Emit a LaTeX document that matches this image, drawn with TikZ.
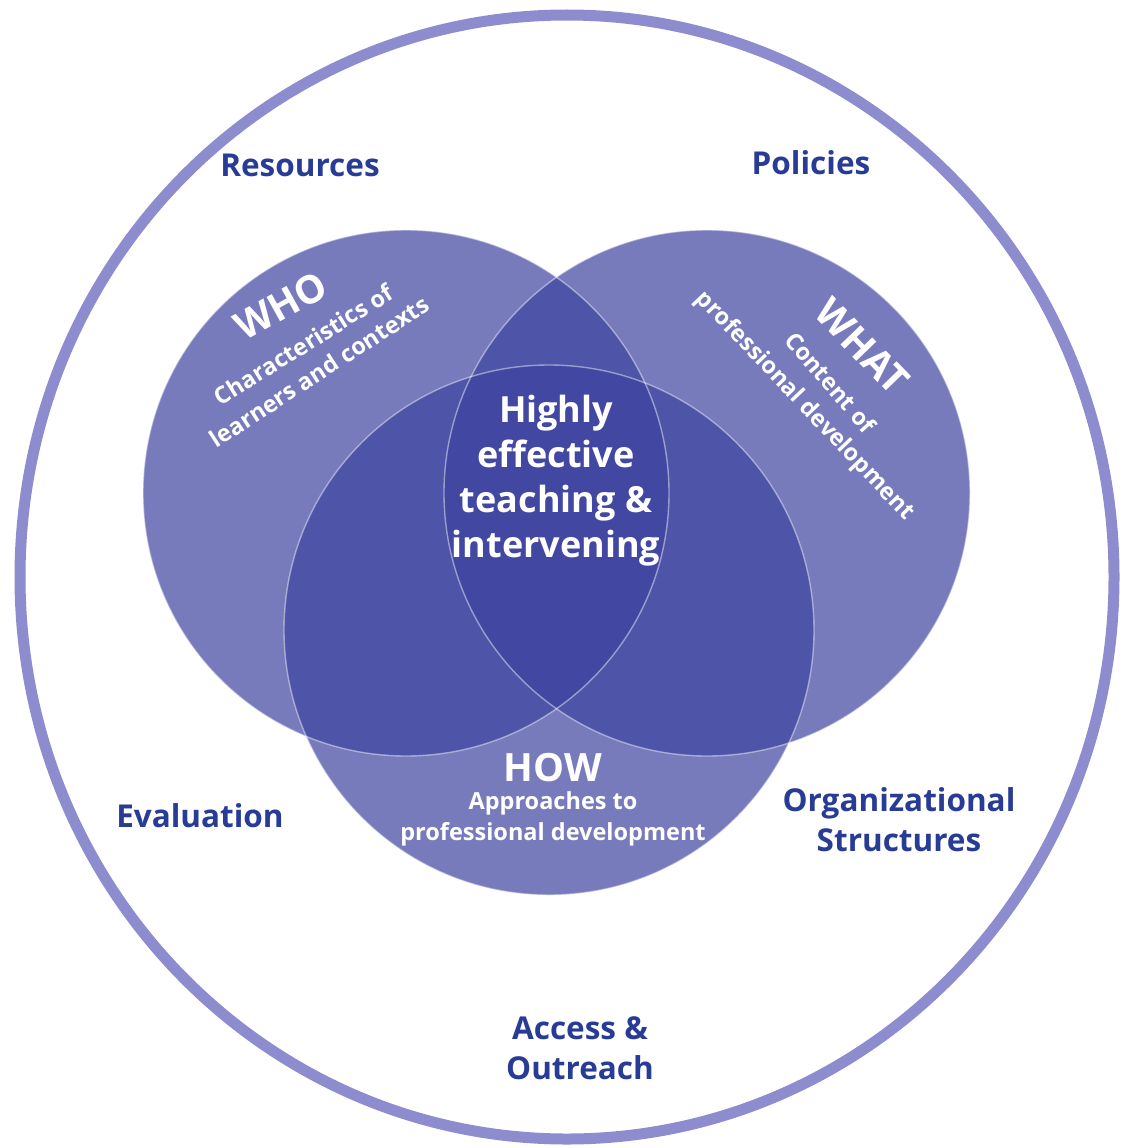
\documentclass[tikz,border=0pt]{standalone}
\usepackage{fontspec}
\setmainfont{Open Sans}
\definecolor{ringblue}{RGB}{140,140,206}
\definecolor{vennblue}{RGB}{62,68,160}
\definecolor{labelblue}{RGB}{40,60,150}
\begin{document}
\begin{tikzpicture}[x=1pt,y=-1pt,
  ring/.style={draw=ringblue, line width=11pt},
  venn/.style={fill=vennblue, fill opacity=0.7},
  vennedge/.style={draw=white, draw opacity=0.45, line width=1.4pt},
  lbl/.style={text=labelblue, font=\fontsize{31.5}{40}\selectfont\bfseries, align=center, inner sep=0pt},
  core/.style={text=white, font=\fontsize{36}{45}\selectfont\bfseries, align=center, inner sep=0pt},
  head/.style={text=white, font=\fontsize{39}{44}\selectfont\bfseries, inner sep=0pt},
  sub/.style={text=white, font=\fontsize{23.5}{31}\selectfont\bfseries, inner sep=0pt, align=center}]
\useasboundingbox (0,0) rectangle (1128,1148);
\fill[white] (0,0) rectangle (1128,1148);

% outer context ring
\draw[ring] (567,577) ellipse [x radius=547, y radius=562];

% the three overlapping circles
\fill[venn] (406,493) circle [radius=263];
\fill[venn] (707,493) circle [radius=263];
\fill[venn] (549,630) circle [radius=265];
\draw[vennedge] (406,493) circle [radius=263];
\draw[vennedge] (707,493) circle [radius=263];
\draw[vennedge] (549,630) circle [radius=265];

% context labels
\node[lbl] (resources) at (300,165) {Resources};
\node[lbl] (policies) at (811,163) {Policies};
\node[lbl] (evaluation) at (200,816) {Evaluation};
\node[lbl] (org) at (899,820) {Organizational\\Structures};
\node[lbl] (access) at (580,1048) {Access \&\\Outreach};

% centre
\node[core] (core) at (556,481) {Highly\\effective\\teaching \&\\intervening};

% WHO
\node[head, rotate=29, anchor=base] (who) at (288,318) {WHO};
\node[sub, rotate=32, anchor=base] (who1) at (308,352) {Characteristics of};
\node[sub, rotate=33, anchor=base] (who2) at (324,379) {learners and contexts};

% WHAT
\node[head, rotate=-46, anchor=base] (what) at (852,356) {WHAT};
\node[sub, rotate=-49, anchor=base] (what1) at (824,388) {Content of};
\node[sub, rotate=-46.5, anchor=base] (what2) at (800,410) {professional development};

% HOW
\node[head] (how) at (553,768) {HOW};
\node[sub] (how1) at (553,819) {Approaches to\\professional development};
\end{tikzpicture}
\end{document}
